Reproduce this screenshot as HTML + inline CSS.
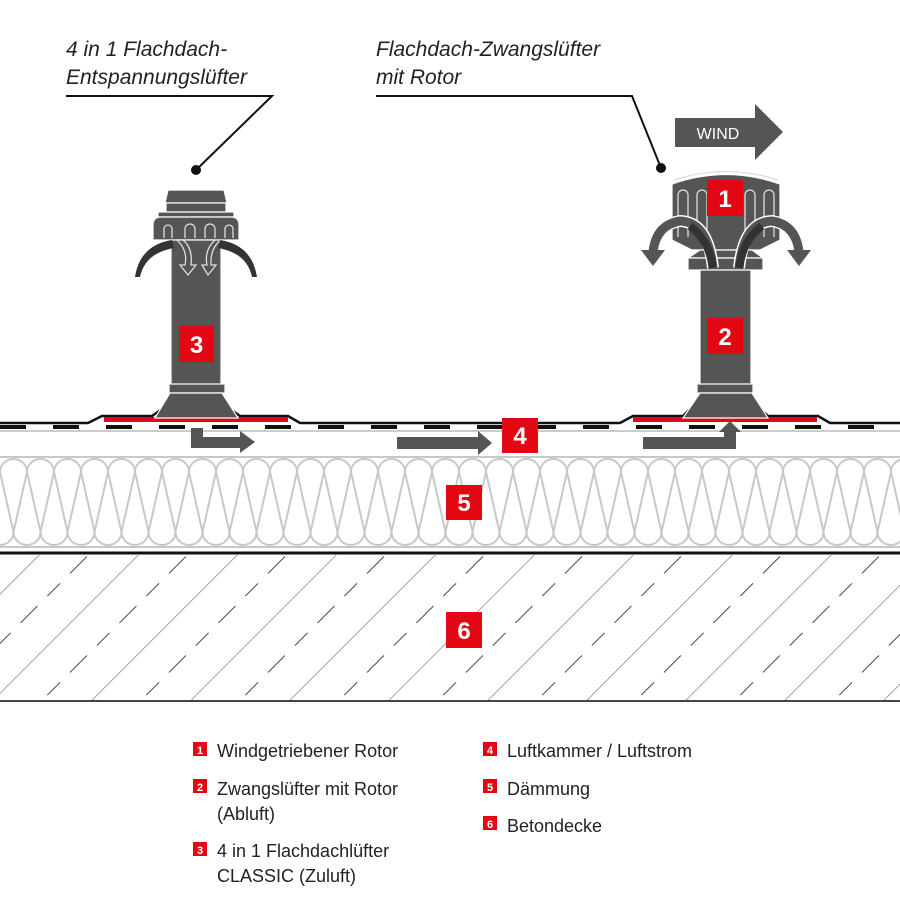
<!DOCTYPE html>
<html><head><meta charset="utf-8"><style>
html,body{margin:0;padding:0;background:#fff;}
svg{display:block;}
</style></head><body>
<svg width="900" height="900" viewBox="0 0 900 900" xmlns="http://www.w3.org/2000/svg" font-family="Liberation Sans, sans-serif">
<defs>
<pattern id="ins" x="0" y="0" width="27" height="900" patternUnits="userSpaceOnUse">
<path d="M0,472 A13.5,13 0 0 1 27,472 M13.5,532 A13.5,13 0 0 0 40.5,532 M-13.5,532 A13.5,13 0 0 0 13.5,532 M0,472 L13.5,532 M0,472 L-13.5,532 M27,472 L13.5,532 M27,472 L40.5,532" fill="none" stroke="#c8c8c8" stroke-width="2"/>
</pattern>
<pattern id="hatch" width="70" height="70" patternUnits="userSpaceOnUse" patternTransform="rotate(-45)">
<line x1="0" y1="0" x2="70" y2="0" stroke="#444" stroke-width="1"/>
<line x1="0" y1="35" x2="70" y2="35" stroke="#444" stroke-width="1" stroke-dasharray="18 14"/>
</pattern>
</defs>

<!-- concrete -->
<rect x="0" y="555" width="900" height="146" fill="url(#hatch)"/>
<line x1="0" y1="701" x2="900" y2="701" stroke="#444" stroke-width="2"/>
<line x1="0" y1="553" x2="900" y2="553" stroke="#111" stroke-width="3"/>

<!-- insulation -->
<rect x="0" y="457" width="900" height="90" fill="url(#ins)"/>
<line x1="0" y1="457" x2="900" y2="457" stroke="#c8c8c8" stroke-width="2"/>
<line x1="0" y1="547" x2="900" y2="547" stroke="#c8c8c8" stroke-width="2"/>

<!-- membrane -->
<line x1="0" y1="427" x2="900" y2="427" stroke="#111" stroke-width="4" stroke-dasharray="26 27"/>
<line x1="0" y1="431" x2="900" y2="431" stroke="#bbb" stroke-width="1.5"/>
<path d="M0,423 H88 L102,416 H152 L162,409 M230,409 L240,416 H288 L300,423 H620 L633,416 H683 L690,409 M760,409 L768,416 H818 L830,423 H900" fill="none" stroke="#111" stroke-width="2.5"/>
<rect x="104" y="417" width="184" height="5" fill="#e30613"/>
<rect x="633" y="417" width="184" height="5" fill="#e30613"/>

<!-- left vent -->
<g fill="#555" stroke="#fff" stroke-width="1.2">
<path d="M168,190 H224 L227,203 H165 Z"/>
<rect x="166" y="203" width="60" height="9"/>
<rect x="158" y="212" width="76" height="5"/>
<path d="M153,240 V225 Q153,217 161,217 H231 Q239,217 239,225 V240 Z"/>
<rect x="171" y="240" width="50" height="145"/>
<rect x="169" y="384" width="56" height="9"/>
<path d="M170,393 H222 L238,418 H155 Z"/>
</g>
<g fill="none" stroke="#ddd" stroke-width="1.3">
<path d="M164,238 V229 a4,4 0 0 1 8,0 V238 M185,238 V229 a5,5 0 0 1 10,0 V238 M205,238 V229 a5,5 0 0 1 10,0 V238 M225,238 V229 a4,4 0 0 1 8,0 V238"/>
<path d="M177,240 Q188,250 185,265 L180,265 L188,275 L196,265 L191,265 Q193,248 183,240"/>
<path d="M215,240 Q204,250 207,265 L202,265 L208,275 L216,265 L211,265 Q210,248 221,240"/>
</g>
<path d="M172,240 Q140,245 135,277 L140,277 Q145,253 174,248 Z" fill="#333"/>
<path d="M220,240 Q252,245 257,277 L252,277 Q247,253 218,248 Z" fill="#333"/>
<rect x="179" y="326" width="35" height="36" fill="#e30613"/>
<text x="196.5" y="353" fill="#fff" font-size="24" font-weight="bold" text-anchor="middle">3</text>

<!-- right vent -->
<g fill="#555" stroke="#fff" stroke-width="1.2">
<path d="M672,184 Q726,165 780,184 V240 L760,250 H692 L672,240 Z"/>
<path d="M700,250 H752 L763,258 H688 Z"/>
<rect x="688" y="258" width="75" height="12"/>
<rect x="700" y="270" width="51" height="115"/>
<rect x="697" y="384" width="56" height="9"/>
<path d="M700,393 H752 L768,418 H683 Z"/>
</g>
<path d="M674,180 Q726,163 778,180" fill="none" stroke="#ddd" stroke-width="1.3"/>
<g fill="none" stroke="#ddd" stroke-width="1.3">
<path d="M678,237 V195 a5,5 0 0 1 10,0 V237 M697,237 V195 a5,5 0 0 1 10,0 V237 M745,237 V195 a5,5 0 0 1 10,0 V237 M764,237 V195 a5,5 0 0 1 10,0 V237"/>
</g>
<rect x="707" y="180" width="36" height="36" fill="#e30613"/>
<text x="725" y="207" fill="#fff" font-size="24" font-weight="bold" text-anchor="middle">1</text>
<!-- rotor arrows -->
<g fill="none" stroke-linecap="butt">
<path d="M713,268 Q708,222 680,221 Q656,225 653,252" stroke="#fff" stroke-width="12"/>
<path d="M713,268 Q708,222 680,221 Q656,225 653,252" stroke="#555" stroke-width="9"/>
<path d="M739,268 Q744,222 772,221 Q796,225 799,252" stroke="#fff" stroke-width="12"/>
<path d="M739,268 Q744,222 772,221 Q796,225 799,252" stroke="#555" stroke-width="9"/>
<path d="M713,268 Q709,240 690,226" stroke="#333" stroke-width="8"/>
<path d="M739,268 Q743,240 762,226" stroke="#333" stroke-width="8"/>
</g>
<path d="M641,250 H665 L653,266 Z" fill="#555"/>
<path d="M787,250 H811 L799,266 Z" fill="#555"/>
<rect x="707" y="318" width="36" height="36" fill="#e30613"/>
<text x="725" y="345" fill="#fff" font-size="24" font-weight="bold" text-anchor="middle">2</text>

<!-- WIND arrow -->
<path d="M675,118 H755 V104 L783,132 L755,160 V147 H675 Z" fill="#555"/>
<text x="718" y="139" fill="#fff" font-size="16" text-anchor="middle">WIND</text>

<!-- airflow arrows -->
<path d="M191,428 H203 V437 H240 V431 L255,442 L240,453 V448 H191 Z" fill="#555"/>
<path d="M397,437 H478 V431 L492,443 L478,455 V449 H397 Z" fill="#555"/>
<path d="M643,437 H724 V432 H719 L730,421 L741,432 H736 V449 H643 Z" fill="#555"/>
<rect x="502" y="418" width="36" height="35" fill="#e30613"/>
<text x="520" y="444" fill="#fff" font-size="24" font-weight="bold" text-anchor="middle">4</text>
<rect x="446" y="485" width="36" height="35" fill="#e30613"/>
<text x="464" y="511" fill="#fff" font-size="24" font-weight="bold" text-anchor="middle">5</text>
<rect x="446" y="612" width="36" height="36" fill="#e30613"/>
<text x="464" y="639" fill="#fff" font-size="24" font-weight="bold" text-anchor="middle">6</text>

<!-- leaders -->
<g fill="none" stroke="#111" stroke-width="2">
<path d="M66,96 H272 L196,170"/>
<path d="M376,96 H632 L661,168"/>
</g>
<circle cx="196" cy="170" r="5" fill="#111"/>
<circle cx="661" cy="168" r="5" fill="#111"/>
<g font-size="21" font-style="italic" fill="#222">
<text x="66" y="56">4 in 1 Flachdach-</text>
<text x="66" y="84">Entspannungslüfter</text>
<text x="376" y="56">Flachdach-Zwangslüfter</text>
<text x="376" y="84">mit Rotor</text>
</g>

<!-- legend -->
<g font-size="18" fill="#222">
<rect x="193" y="742" width="14" height="14" fill="#e30613"/><text x="200" y="754" fill="#fff" font-size="11" font-weight="bold" text-anchor="middle">1</text>
<text x="217" y="757">Windgetriebener Rotor</text>
<rect x="193" y="779" width="14" height="14" fill="#e30613"/><text x="200" y="791" fill="#fff" font-size="11" font-weight="bold" text-anchor="middle">2</text>
<text x="217" y="795">Zwangslüfter mit Rotor</text>
<text x="217" y="820">(Abluft)</text>
<rect x="193" y="842" width="14" height="14" fill="#e30613"/><text x="200" y="854" fill="#fff" font-size="11" font-weight="bold" text-anchor="middle">3</text>
<text x="217" y="857">4 in 1 Flachdachlüfter</text>
<text x="217" y="882">CLASSIC (Zuluft)</text>
<rect x="483" y="742" width="14" height="14" fill="#e30613"/><text x="490" y="754" fill="#fff" font-size="11" font-weight="bold" text-anchor="middle">4</text>
<text x="507" y="757">Luftkammer / Luftstrom</text>
<rect x="483" y="779" width="14" height="14" fill="#e30613"/><text x="490" y="791" fill="#fff" font-size="11" font-weight="bold" text-anchor="middle">5</text>
<text x="507" y="795">Dämmung</text>
<rect x="483" y="816" width="14" height="14" fill="#e30613"/><text x="490" y="828" fill="#fff" font-size="11" font-weight="bold" text-anchor="middle">6</text>
<text x="507" y="832">Betondecke</text>
</g>
</svg>
</body></html>
